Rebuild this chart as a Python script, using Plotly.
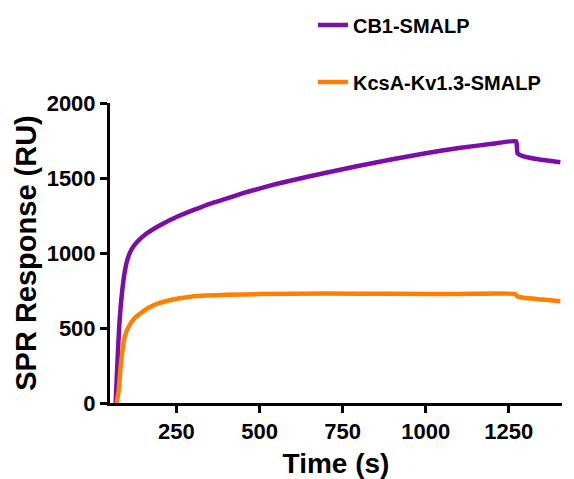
import plotly.graph_objects as go

# CB1-SMALP sensorgram
cb1_time = [67, 70, 74, 78, 82, 87, 94, 102, 115, 132, 160, 202, 250, 302, 350, 402, 450, 502, 550,
            602, 700, 800, 900, 1000, 1100, 1200, 1272, 1276, 1290, 1320, 1360, 1405]
cb1_resp = [0, 150, 350, 520, 640, 753, 870, 953, 1025, 1075, 1130, 1187, 1240, 1287, 1328, 1364, 1399,
            1431, 1460, 1487, 1535, 1582, 1625, 1665, 1700, 1728, 1745, 1665, 1648, 1632, 1618, 1605]

# KcsA-Kv1.3-SMALP sensorgram
kcs_time = [70, 73, 76, 79, 82, 87, 92, 100, 112, 125, 142, 157, 172, 190, 212, 250, 292, 340, 400,
            500, 700, 900, 1100, 1268, 1275, 1290, 1320, 1360, 1405]
kcs_resp = [0, 40, 80, 160, 242, 340, 420, 480, 531, 568, 598, 622, 642, 660, 675, 695, 709, 716, 721,
            726, 730, 728, 727, 727, 712, 703, 696, 688, 678]

x_ticks = [250, 500, 750, 1000, 1250]
y_ticks = [0, 500, 1000, 1500, 2000]

FONT = "Liberation Sans, Arial, sans-serif"

fig = go.Figure()
fig.add_trace(go.Scatter(x=cb1_time, y=cb1_resp, mode="lines", name="<b>CB1-SMALP</b>",
                         line=dict(color="#7a0ea6", width=4.5, shape="spline", smoothing=0.35),
                         legendgroup="a"))
fig.add_trace(go.Scatter(x=kcs_time, y=kcs_resp, mode="lines", name="<b>KcsA-Kv1.3-SMALP</b>",
                         line=dict(color="#ff8000", width=4.5, shape="spline", smoothing=0.35),
                         legendgroup="b"))

fig.update_layout(
    width=566, height=471,
    margin=dict(l=102, r=12, t=95, b=76, autoexpand=False),
    paper_bgcolor="white", plot_bgcolor="white",
    font=dict(family=FONT, color="black"),
    showlegend=True,
    legend=dict(x=0.449, y=1.325, xanchor="left", yanchor="top",
                font=dict(size=20, family=FONT, color="black"),
                tracegroupgap=28, traceorder="grouped", bgcolor="rgba(0,0,0,0)"),
    xaxis=dict(range=[50, 1410], tickvals=x_ticks, ticktext=[f"<b>{v}</b>" for v in x_ticks],
               showgrid=False, zeroline=False, showline=True, linecolor="black", linewidth=3,
               ticks="outside", ticklen=7, tickwidth=3, tickcolor="black",
               tickfont=dict(size=22, family=FONT, color="black"),
               title=dict(text="<b>Time (s)</b>", font=dict(size=28, family=FONT, color="black"), standoff=14)),
    yaxis=dict(range=[0, 2000], tickvals=y_ticks, ticktext=[f"<b>{v}</b>" for v in y_ticks],
               showgrid=False, zeroline=False, showline=True, linecolor="black", linewidth=3,
               ticks="outside", ticklen=7, tickwidth=3, tickcolor="black",
               tickfont=dict(size=22, family=FONT, color="black"),
               title=dict(text="<b>SPR Response (RU)</b>", font=dict(size=29, family=FONT, color="black"), standoff=2)),
)

fig.write_html("out.html")
